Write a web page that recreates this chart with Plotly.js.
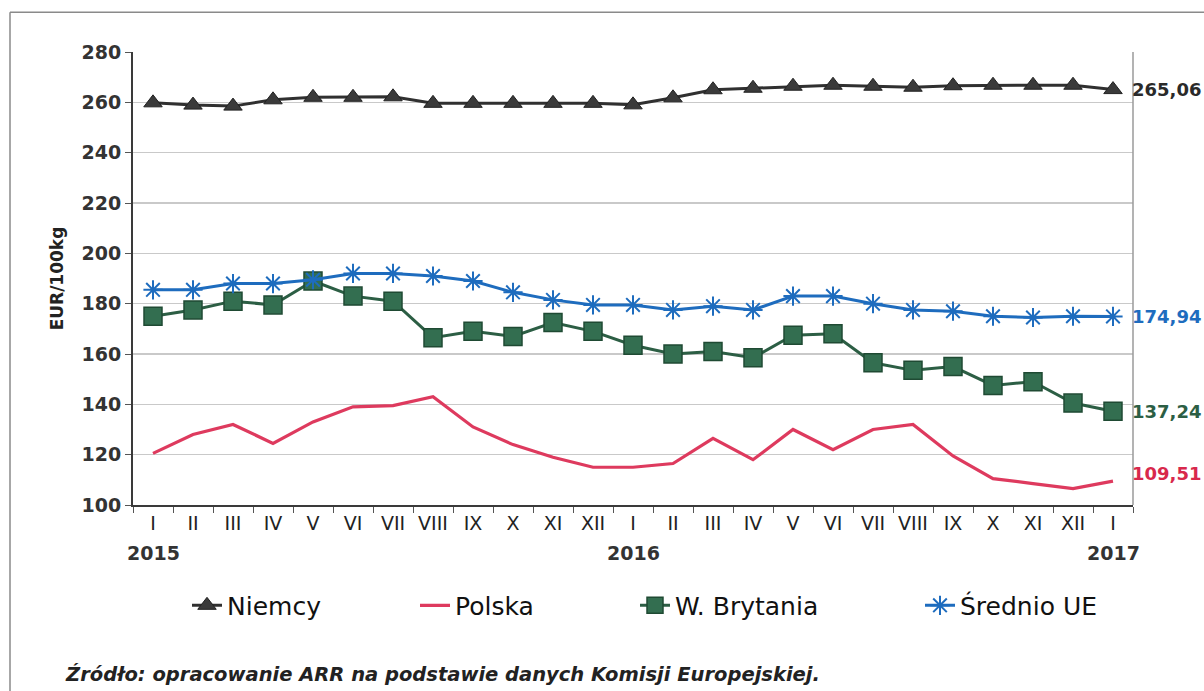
<!DOCTYPE html>
<html>
<head>
<meta charset="utf-8">
<script src="https://cdn.plot.ly/plotly-3.0.1.min.js"></script>
<style>
  html, body { margin: 0; padding: 0; background: #ffffff; }
  #chart { width: 1204px; height: 691px; }
</style>
</head>
<body>
<div id="chart"></div>
<script>
// ---- Data ----
const months = ["I","II","III","IV","V","VI","VII","VIII","IX","X","XI","XII",
                "I","II","III","IV","V","VI","VII","VIII","IX","X","XI","XII","I"];
const years = ["2015", "2016", "2017"];
const yearIdx = [0, 12, 24];

const niemcy = [259.8, 258.9, 258.5, 261.0, 262.0, 262.0, 262.2, 259.6, 259.6, 259.6, 259.6, 259.6,
                259.0, 261.8, 265.0, 265.6, 266.4, 266.8, 266.4, 266.0, 266.6, 266.8, 266.8, 266.8, 265.06];
const polska = [120.5, 128.0, 132.0, 124.5, 133.0, 139.0, 139.5, 143.0, 131.0, 124.0, 119.0, 115.0,
                115.0, 116.5, 126.5, 118.0, 130.0, 122.0, 130.0, 132.0, 119.5, 110.5, 108.5, 106.5, 109.51];
const brytania = [175.0, 177.5, 181.0, 179.5, 189.0, 183.0, 181.0, 166.5, 169.0, 167.0, 172.5, 169.0,
                  163.5, 160.0, 161.0, 158.5, 167.5, 168.0, 156.5, 153.5, 155.0, 147.5, 149.0, 140.5, 137.24];
const srednioUE = [185.5, 185.5, 188.0, 188.0, 189.5, 192.0, 192.0, 191.0, 189.0, 184.5, 181.5, 179.5,
                   179.5, 177.5, 179.0, 177.5, 183.0, 183.0, 180.0, 177.5, 177.0, 175.0, 174.5, 175.0, 174.94];
const lastLabels = ["265,06", "109,51", "137,24", "174,94"];

const xs = months.map((_, i) => i);
const FONT = "DejaVu Sans, Arial, sans-serif";

const traces = [
  { x: xs, y: niemcy, name: "Niemcy", type: "scatter", mode: "lines+markers",
    line: { color: "#303030", width: 3 },
    marker: { symbol: "triangle-up", size: 16, color: "#3a3a3a", line: { color: "#222", width: 1 } },
    legend: "legend" },
  { x: xs, y: polska, name: "Polska", type: "scatter", mode: "lines",
    line: { color: "#de3a5e", width: 3.2 },
    legend: "legend2" },
  { x: xs, y: brytania, name: "W. Brytania", type: "scatter", mode: "lines+markers",
    line: { color: "#2c5e44", width: 3 },
    marker: { symbol: "square", size: 18, color: "#336e50", line: { color: "#1f4a33", width: 1.5 } },
    legend: "legend3" },
  { x: xs, y: srednioUE, name: "Średnio UE", type: "scatter", mode: "lines+markers",
    line: { color: "#1e6cbe", width: 3 },
    marker: { symbol: "asterisk-open", size: 16, color: "#1e6cbe", line: { color: "#1e6cbe", width: 2 } },
    legend: "legend4" }
];

const series = [niemcy, polska, brytania, srednioUE];
const labelColors = ["#2a2a2a", "#d8284c", "#2c5e44", "#1e6cbe"];
const labelShift = [0, 8, 0, 0];

const annotations = [];
series.forEach((s, k) => {
  annotations.push({
    x: xs[xs.length - 1], y: s[s.length - 1], xref: "x", yref: "y",
    text: "<b>" + lastLabels[k] + "</b>", showarrow: false,
    xanchor: "left", yanchor: "middle", xshift: 17, yshift: labelShift[k],
    font: { family: FONT, size: 18, color: labelColors[k] }
  });
});
years.forEach((yr, k) => {
  annotations.push({
    x: yearIdx[k], y: -0.106, xref: "x", yref: "paper",
    text: "<b>" + yr + "</b>", showarrow: false,
    xanchor: "center", yanchor: "middle",
    font: { family: FONT, size: 19, color: "#333" }
  });
});
annotations.push({
  x: -0.07, y: -0.375, xref: "paper", yref: "paper",
  text: "<b><i>Źródło: opracowanie ARR na podstawie danych Komisji Europejskiej.</i></b>",
  showarrow: false, xanchor: "left", yanchor: "middle",
  font: { family: FONT, size: 19.5, color: "#222" }
});

const legendBase = (x) => ({
  x: x, y: -0.222, xanchor: "left", yanchor: "middle", orientation: "h",
  bgcolor: "rgba(0,0,0,0)", font: { family: FONT, size: 25, color: "#111" }
});

const layout = {
  width: 1204, height: 691,
  margin: { l: 133, r: 71, t: 52, b: 186 },
  paper_bgcolor: "#ffffff", plot_bgcolor: "#ffffff",
  showlegend: true,
  legend: legendBase(0.054),
  legend2: legendBase(0.282),
  legend3: legendBase(0.502),
  legend4: legendBase(0.787),
  xaxis: {
    range: [-0.5, 24.5], tickmode: "array", tickvals: xs, ticktext: months,
    ticks: "", showgrid: false, zeroline: false,
    showline: true, linecolor: "#3a3a3a", linewidth: 2,
    tickfont: { family: FONT, size: 19, color: "#222" },
    minor: { tick0: 0.5, dtick: 1, ticks: "outside", ticklen: 6, tickcolor: "#555", tickwidth: 1, showgrid: false },
    fixedrange: true
  },
  yaxis: {
    range: [100, 280], tickmode: "array", tickvals: [100,120,140,160,180,200,220,240,260,280],
    ticks: "outside", ticklen: 6, tickcolor: "#555",
    showgrid: true, gridcolor: "#c9c9c9", gridwidth: 1.5, zeroline: false,
    showline: true, linecolor: "#3a3a3a", linewidth: 2,
    tickfont: { family: FONT, size: 19, color: "#333", weight: "bold" },
    title: { text: "<b>EUR/100kg</b>", font: { family: FONT, size: 17, color: "#222" }, standoff: 14 },
    fixedrange: true
  },
  shapes: [
    { type: "line", xref: "paper", yref: "paper", x0: 1, x1: 1, y0: 0, y1: 1, line: { color: "#9a9a9a", width: 1.5 } },
    { type: "line", xref: "paper", yref: "paper", x0: -0.123, x1: 1.1, y0: 1.088, y1: 1.088, line: { color: "#8a8a8a", width: 1.5 } },
    { type: "line", xref: "paper", yref: "paper", x0: -0.123, x1: -0.123, y0: 1.088, y1: -0.6, line: { color: "#8a8a8a", width: 1.5 } }
  ],
  annotations: annotations
};

Plotly.newPlot("chart", traces, layout, { displayModeBar: false, staticPlot: true });
</script>
</body>
</html>
